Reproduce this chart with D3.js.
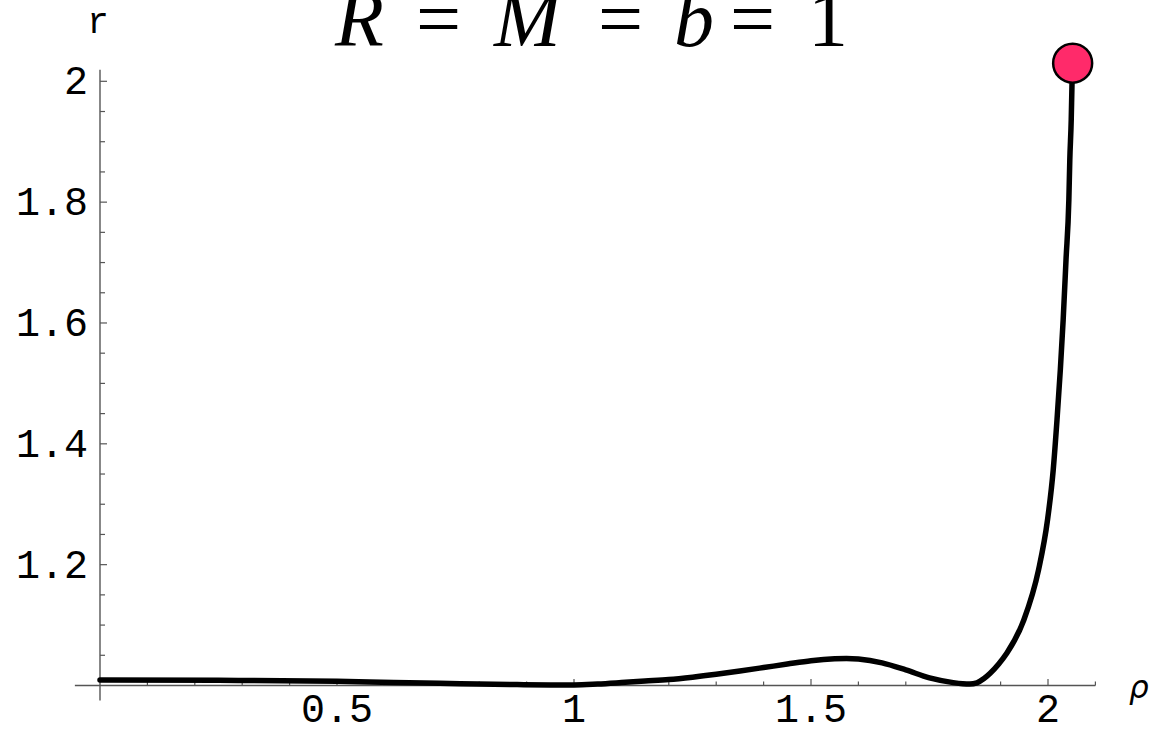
<!DOCTYPE html>
<html>
<head>
<meta charset="utf-8">
<script src="https://cdn.jsdelivr.net/npm/d3@7"></script>
<style>
  html, body { margin: 0; padding: 0; background: #fff; }
  svg { display: block; }
</style>
</head>
<body>
<svg id="chart" width="1166" height="729"></svg>
<script>
// r(ρ) trajectory for R = M = b = 1
const rho = [0, 0.25, 0.5, 0.62, 0.76, 0.88, 0.95, 1.0, 1.05, 1.1, 1.15, 1.2, 1.25, 1.3, 1.35, 1.4, 1.45, 1.5, 1.55, 1.575, 1.6, 1.65, 1.7, 1.75, 1.8, 1.82, 1.835, 1.85, 1.865, 1.878, 1.896, 1.913, 1.949, 1.980, 1.999, 2.011, 2.019, 2.026, 2.032, 2.038, 2.044, 2.046, 2.049, 2.0506, 2.052];
const rVal = [1.009, 1.0085, 1.007, 1.0048, 1.003, 1.0015, 1.001, 1.001, 1.0025, 1.0048, 1.0073, 1.0098, 1.0138, 1.0186, 1.024, 1.0297, 1.0355, 1.041, 1.0442, 1.0447, 1.0438, 1.0375, 1.0258, 1.0125, 1.0048, 1.003, 1.0025, 1.0045, 1.0115, 1.0202, 1.0356, 1.0533, 1.1084, 1.1912, 1.274, 1.3568, 1.4396, 1.5224, 1.6051, 1.7045, 1.8038, 1.870, 1.9363, 1.9942, 2.030];

// end point of the trajectory
const endPoint = { rho: 2.052, r: 2.030 };

const xTickMajor = [0.5, 1, 1.5, 2];
const xTickLabels = ["0.5", "1", "1.5", "2"];
const xTickMinor = [0.1, 0.2, 0.3, 0.4, 0.6, 0.7, 0.8, 0.9, 1.1, 1.2, 1.3, 1.4, 1.6, 1.7, 1.8, 1.9, 2.1];
const yTickMajor = [1.2, 1.4, 1.6, 1.8, 2];
const yTickLabels = ["1.2", "1.4", "1.6", "1.8", "2"];
const yTickMinor = [1.05, 1.1, 1.15, 1.25, 1.3, 1.35, 1.45, 1.5, 1.55, 1.65, 1.7, 1.75, 1.85, 1.9, 1.95];

const svg = d3.select("#chart");
const x = d3.scaleLinear().domain([0, 2]).range([100, 1048]);
const y = d3.scaleLinear().domain([1, 2]).range([685.5, 81.3]);

const axisColor = "#555";
const monoFont = "'Liberation Mono', 'DejaVu Sans Mono', monospace";

// axis lines
svg.append("line")
  .attr("x1", x(-0.053)).attr("x2", x(2.1))
  .attr("y1", y(1)).attr("y2", y(1))
  .attr("stroke", axisColor).attr("stroke-width", 1.4);
svg.append("line")
  .attr("x1", x(0)).attr("x2", x(0))
  .attr("y1", y(0.975)).attr("y2", y(2.019))
  .attr("stroke", axisColor).attr("stroke-width", 1.4);

// x ticks point up into the plot
svg.append("g").selectAll("line").data(xTickMinor).join("line")
  .attr("x1", d => x(d)).attr("x2", d => x(d))
  .attr("y1", y(1)).attr("y2", y(1) - 4)
  .attr("stroke", axisColor).attr("stroke-width", 1.2);
svg.append("g").selectAll("line").data(xTickMajor).join("line")
  .attr("x1", d => x(d)).attr("x2", d => x(d))
  .attr("y1", y(1)).attr("y2", y(1) - 6.5)
  .attr("stroke", axisColor).attr("stroke-width", 1.2);

// y ticks point right into the plot
svg.append("g").selectAll("line").data(yTickMinor).join("line")
  .attr("x1", x(0)).attr("x2", x(0) + 5)
  .attr("y1", d => y(d)).attr("y2", d => y(d))
  .attr("stroke", axisColor).attr("stroke-width", 1.2);
svg.append("g").selectAll("line").data(yTickMajor).join("line")
  .attr("x1", x(0)).attr("x2", x(0) + 7)
  .attr("y1", d => y(d)).attr("y2", d => y(d))
  .attr("stroke", axisColor).attr("stroke-width", 1.2);

// tick labels
svg.append("g").selectAll("text").data(xTickMajor).join("text")
  .attr("x", d => x(d)).attr("y", y(1) + 36)
  .attr("text-anchor", "middle")
  .attr("font-family", monoFont).attr("font-size", 40)
  .attr("fill", "#000")
  .text((d, i) => xTickLabels[i]);
svg.append("g").selectAll("text").data(yTickMajor).join("text")
  .attr("x", x(0) - 12).attr("y", d => y(d) + 13)
  .attr("text-anchor", "end")
  .attr("font-family", monoFont).attr("font-size", 40)
  .attr("fill", "#000")
  .text((d, i) => yTickLabels[i]);

// axis labels
svg.append("text")
  .attr("x", x(0) - 2).attr("y", 33)
  .attr("text-anchor", "middle")
  .attr("font-family", monoFont).attr("font-size", 36)
  .text("r");
svg.append("text")
  .attr("x", 1129).attr("y", 698)
  .attr("font-family", "'DejaVu Sans', sans-serif").attr("font-size", 31)
  .attr("font-style", "italic").attr("font-weight", 300)
  .text("ρ");

// title
const title = svg.append("text")
  .attr("y", 46)
  .attr("font-family", "'Liberation Serif', 'DejaVu Serif', serif")
  .attr("font-size", 80).attr("fill", "#000");
const titleParts = [
  { t: "R", italic: true, x: 335 },
  { t: "=", italic: false, x: 416 },
  { t: "M", italic: true, x: 494 },
  { t: "=", italic: false, x: 598 },
  { t: "b", italic: true, x: 674 },
  { t: "=", italic: false, x: 730 },
  { t: "1", italic: false, x: 808 }
];
titleParts.forEach(p => {
  title.append("tspan")
    .attr("x", p.x)
    .attr("font-style", p.italic ? "italic" : "normal")
    .text(p.t);
});

// trajectory
const pts = rho.map((d, i) => [d, rVal[i]]);
const line = d3.line()
  .x(d => x(d[0]))
  .y(d => y(d[1]))
  .curve(d3.curveMonotoneX);
svg.append("path")
  .datum(pts)
  .attr("d", line)
  .attr("fill", "none")
  .attr("stroke", "#000")
  .attr("stroke-width", 5.5)
  .attr("stroke-linejoin", "round")
  .attr("stroke-linecap", "round");

// end-point marker
svg.append("circle")
  .attr("cx", x(endPoint.rho)).attr("cy", y(endPoint.r))
  .attr("r", 19.5)
  .attr("fill", "#ff2a6a")
  .attr("stroke", "#000").attr("stroke-width", 2.5);
</script>
</body>
</html>
